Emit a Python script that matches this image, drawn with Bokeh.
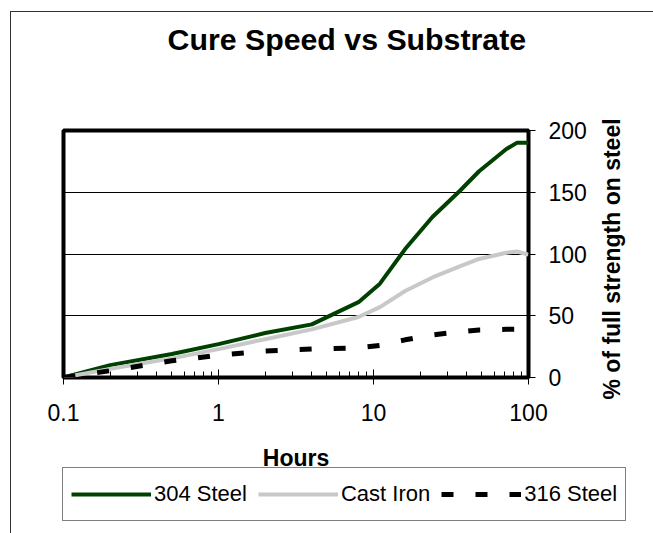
import math
from bokeh.plotting import figure
from bokeh.layouts import column, row
from bokeh.models import FixedTicker, Legend, LegendItem, Label
from bokeh.embed import file_html
from bokeh.resources import INLINE

# ---- data ----
hours = [0.1, 0.2, 0.5, 1, 2, 4, 8, 11, 16, 24, 36, 48, 72, 84, 100]
steel_304 = [0, 10, 19, 27, 36, 43, 61, 76, 104, 130, 151, 167, 185, 190, 190]
cast_iron = [0, 7, 15.5, 23, 31, 39, 49, 57, 70, 81, 90, 96, 101, 102, 99.5]
steel_316 = [0, 5.5, 13.5, 18, 21.5, 23, 24, 26, 30.5, 34.5, 37, 38.5, 39, 39, 39]
series_names = ["304 Steel", "Cast Iron", "316 Steel"]
series_colors = ["#004000", "#c8c8c8", "black"]
series_widths = [4, 4, 5]
series_dashes = ["solid", "solid", "12 22"]

x_ticks = [0.1, 1, 10, 100]
x_tick_labels = ["0.1", "1", "10", "100"]
x_minor_ticks = [m * 10 ** e for e in (-1, 0, 1) for m in range(2, 10)]
y_ticks = [0, 50, 100, 150, 200]

title_text = "Cure Speed vs Substrate"
x_title = "Hours"
y_title = "% of full strength on steel"

FONT = "Liberation Sans"
W = 653
MAIN_W = 590


def unalign(f):
    if "frame_align" in f.properties():
        f.frame_align = False


def blank(width, height, rng=(0, 1)):
    f = figure(width=width, height=height, x_range=rng, y_range=rng, min_border=0,
               x_axis_location=None, y_axis_location=None,
               output_backend="svg", toolbar_location=None)
    f.grid.visible = False
    f.outline_line_color = None
    f.background_fill_color = None
    f.border_fill_color = None
    unalign(f)
    return f


# ---------- title strip ----------
ft = blank(W, 60)
ft.add_layout(Label(x=167, y=21.2, x_units="screen", y_units="screen", text=title_text,
                    text_align="left", text_baseline="middle", text_font=FONT,
                    text_font_size="30.3px", text_font_style="bold", text_color="black"))

# ---------- main chart ----------
p = figure(frame_width=465, frame_height=247, x_axis_type="log", x_range=(0.1, 100), y_range=(0, 200),
           y_axis_location="right", output_backend="svg", toolbar_location=None,
           min_border_left=63, min_border_right=MAIN_W - 63 - 465, min_border_top=70,
           min_border_bottom=63)
unalign(p)
p.border_fill_color = None
p.background_fill_color = "white"
p.outline_line_color = "black"
p.outline_line_width = 4

p.xgrid.visible = False
p.ygrid.ticker = FixedTicker(ticks=y_ticks)
p.ygrid.grid_line_color = "black"
p.ygrid.grid_line_width = 1

xa = p.xaxis[0]
xa.ticker = FixedTicker(ticks=x_ticks, minor_ticks=x_minor_ticks)
xa.major_label_overrides = dict(zip(x_ticks, x_tick_labels))
xa.axis_line_color = None
xa.major_tick_in = 8
xa.major_tick_out = 7
xa.minor_tick_in = 6
xa.minor_tick_out = 0
xa.major_tick_line_color = "black"
xa.minor_tick_line_color = "black"
xa.major_label_text_font = FONT
xa.major_label_text_font_size = "23px"
xa.major_label_text_color = "black"
xa.major_label_standoff = 19

ya = p.yaxis[0]
ya.ticker = FixedTicker(ticks=y_ticks)
ya.axis_line_color = None
ya.major_tick_in = 0
ya.major_tick_out = 7
ya.major_tick_line_color = "black"
ya.minor_tick_line_color = None
ya.major_label_text_font = FONT
ya.major_label_text_font_size = "23px"
ya.major_label_text_color = "black"
ya.major_label_standoff = 13

series = [steel_304, cast_iron, steel_316]
renderers = [p.line(hours, s, line_color=c, line_width=w, line_dash=d)
             for s, c, w, d in zip(series, series_colors, series_widths, series_dashes)]

# ---------- vertical axis title strip (right of the chart) ----------
fy = blank(W - MAIN_W, 380)
fy.add_layout(Label(x=21.5, y=181.5, x_units="screen", y_units="screen", text=y_title,
                    angle=math.pi / 2, text_align="center", text_baseline="middle",
                    text_font=FONT, text_font_size="23px", text_font_style="bold",
                    text_color="black"))

# ---------- x title + legend strip ----------
fl = blank(W, 93, rng=(-2, -1))   # series drawn here only as legend samples (out of view)
fl.add_layout(Label(x=295.5, y=76, x_units="screen", y_units="screen", text=x_title,
                    text_align="center", text_baseline="middle", text_font=FONT,
                    text_font_size="23px", text_font_style="bold", text_color="black"))
samples = [fl.line(hours, s, line_color=c, line_width=w, line_dash=d)
           for s, c, w, d in zip(series, series_colors, series_widths, series_dashes)]
legend = Legend(items=[LegendItem(label=n, renderers=[g]) for n, g in zip(series_names, samples)],
                orientation="horizontal", location=(62, 12),
                glyph_width=80, glyph_height=36, label_standoff=3, spacing=11,
                padding=8, margin=0, border_line_color="black", border_line_width=1,
                label_text_font=FONT, label_text_font_size="22px", label_text_color="black",
                background_fill_color="white", background_fill_alpha=1)
fl.add_layout(legend, "center")

page = column(ft, row(p, fy, spacing=0), fl, spacing=0)
page.styles = {"background": "linear-gradient(#333,#333) 10px 11px / 1px calc(100% - 11px) no-repeat, "
                             "linear-gradient(#333,#333) 10px 11px / calc(100% - 10px) 1px no-repeat, #fff"}

open("out.html", "w").write(file_html(page, INLINE))
